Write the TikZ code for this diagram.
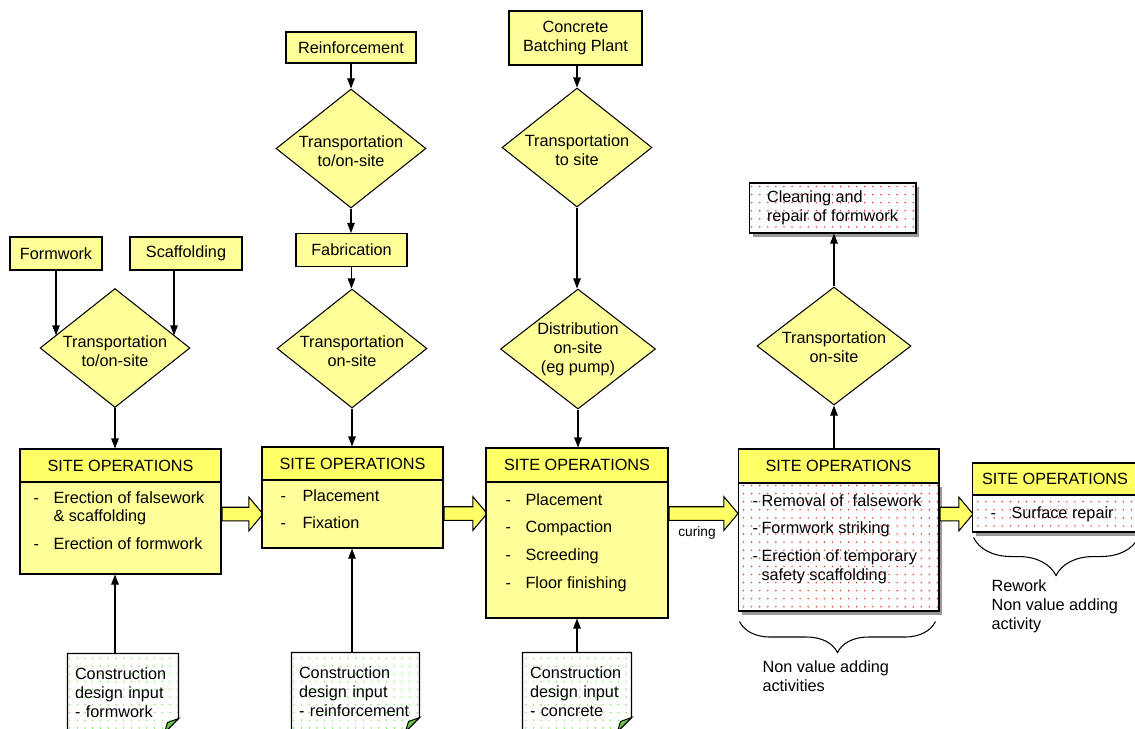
\documentclass[tikz,border=0pt]{standalone}
\usepackage{fontspec}
\setmainfont{Liberation Sans}
\usetikzlibrary{shapes.geometric,shapes.arrows,arrows.meta,patterns.meta,shadows,decorations.pathreplacing}

\definecolor{boxyellow}{RGB}{255,255,153}
\definecolor{headyellow}{RGB}{255,255,102}
\definecolor{dotred}{RGB}{255,30,30}
\definecolor{dotgreen}{RGB}{120,235,80}
\definecolor{foldgreen}{RGB}{110,205,70}

% list of operations: width of the dash column, then the rows
\newcommand{\oplist}[2]{\begin{tabular}[t]{@{}p{#1}@{}l@{}}#2\end{tabular}}
% outline of a design note with its folded corner
\newcommand{\docedge}[1]{%
  \fill[white] ([yshift=0.28cm]#1.south east) -- (#1.south east) -- ([xshift=-0.28cm]#1.south east) -- cycle;
  \draw (#1.south west) -- (#1.north west) -- (#1.north east) -- ([yshift=0.28cm]#1.south east) -- ([xshift=-0.28cm]#1.south east);
  \filldraw[fill=foldgreen] ([yshift=0.28cm]#1.south east) -- ([xshift=-0.28cm]#1.south east) -- ([xshift=-0.22cm,yshift=0.2cm]#1.south east) -- cycle;}

\tikzset{
  every node/.style={font=\fontsize{9.25}{10.8}\selectfont},
  srcbox/.style={draw, fill=boxyellow, inner sep=0pt, align=center},
  dia/.style={diamond, draw, fill=boxyellow, inner sep=0pt, minimum width=3cm, minimum height=2.38cm},
  ophead/.style={draw, fill=headyellow, inner sep=0pt, minimum height=0.66cm},
  opbody/.style={draw, fill=boxyellow, inner sep=0pt},
  waste/.style={draw, inner sep=0pt,
    drop shadow={shadow xshift=0.07cm, shadow yshift=-0.07cm, fill=black!40, opacity=1},
    preaction={fill=white}, pattern={Dots[distance=4.6pt, radius=0.45pt]}, pattern color=dotred},
  docnote/.style={preaction={fill=white}, pattern={Dots[distance=4.4pt, radius=0.45pt]}, pattern color=dotgreen,
    inner ysep=0pt, inner xsep=0.14cm, align=left, minimum height=1.56cm},
  blkarrow/.style={single arrow, draw, fill=headyellow, inner sep=0pt, text height=0.25cm, text depth=0pt,
    single arrow head extend=0.2cm, single arrow tip angle=100, anchor=tail},
  brc/.style={decorate, decoration={brace, mirror, amplitude=#1}},
}

\begin{document}
\begin{tikzpicture}[x=0.02cm,y=-0.02cm,line width=0.6pt,>={Triangle[length=0.2cm,width=0.15cm]}]
  \path[use as bounding box, clip] (0,0) rectangle (1135,728);

  % formwork and scaffolding
  \node[srcbox, minimum width=1.84cm, minimum height=0.66cm] (form) at (56,253.5) {Formwork};
  \node[srcbox, minimum width=2.24cm, minimum height=0.66cm] (scaf) at (186,253.5) {Scaffolding};
  \coordinate (scafout) at ([xshift=-0.24cm]scaf.south);
  \node[dia] (d1) at (115,348) {};
  \node[align=center] (d1txt) at (115,351) {Transportation\\to/on-site};
  \node[ophead, minimum width=4.02cm] (op1h) at (120.5,465.5) {SITE OPERATIONS};
  \node[opbody, minimum width=4.02cm, minimum height=1.84cm] (op1b) at (120.5,528) {};
  \node[anchor=base west, inner sep=0pt] (op1txt) at (33,503)
    {\oplist{0.4cm}{-&Erection of falsework\\&\& scaffolding\\[5.1pt]-&Erection of formwork}};
  \node[docnote, text width=1.92cm, minimum width=2.2cm] (doc1) at (123,693) {Construction\\design input\\- formwork};
  \docedge{doc1}
  \draw[->] (form.south) -- (form.south |- d1.168);
  \draw[->] (scafout) -- (scafout |- d1.12);
  \draw[->] (d1.south) -- (d1.south |- op1h.north);
  \draw[->] (doc1.north -| d1.south) -- (op1b.south -| d1.south);
  \node[blkarrow, minimum height=0.82cm] (b12) at (op1b.east |- 0,514) {};

  % reinforcement
  \node[srcbox, minimum width=2.6cm, minimum height=0.62cm] (reinf) at (351,47.5) {Reinforcement};
  \node[dia] (d2) at (351,148.5) {};
  \node[align=center] (d2txt) at (351,151) {Transportation\\to/on-site};
  \node[srcbox, minimum width=2.22cm, minimum height=0.66cm] (fabr) at (351.5,250) {Fabrication};
  \node[dia] (d3) at (352,348.5) {};
  \node[align=center] (d3txt) at (352,351) {Transportation\\on-site};
  \node[ophead, minimum width=3.62cm] (op2h) at (352.5,463.5) {SITE OPERATIONS};
  \node[opbody, minimum width=3.62cm, minimum height=1.36cm] (op2b) at (352.5,514) {};
  \node[anchor=base west, inner sep=0pt] (op2txt) at (280,501)
    {\oplist{0.44cm}{-&Placement\\[5.1pt]-&Fixation}};
  \node[docnote, text width=2.26cm, minimum width=2.54cm] (doc2) at (355.5,692) {Construction\\design input\\- reinforcement};
  \docedge{doc2}
  \draw[->] (reinf.south) -- (reinf.south |- d2.north);
  \draw[->] (d2.south) -- (d2.south |- fabr.north);
  \draw[->] (fabr.south) -- (fabr.south |- d3.north);
  \draw[->] (d3.south) -- (d3.south |- op2h.north);
  \draw[->] (doc2.north -| d3.south) -- (op2b.south -| d3.south);
  \node[blkarrow, minimum height=0.86cm] (b23) at (op2b.east |- 0,513.5) {};

  % concrete
  \node[srcbox, minimum width=2.66cm, minimum height=1.08cm] (plant) at (575.5,38) {Concrete\\Batching Plant};
  \node[dia] (d4) at (577,147.5) {};
  \node[align=center] (d4txt) at (577,150) {Transportation\\to site};
  \node[dia, minimum width=3.1cm, minimum height=2.4cm] (d5) at (578,349) {};
  \node[align=center] (d5txt) at (d5) {Distribution\\on-site\\(eg pump)};
  \node[ophead, minimum width=3.64cm, minimum height=0.68cm] (op3h) at (577,465) {SITE OPERATIONS};
  \node[opbody, minimum width=3.64cm, minimum height=2.72cm] (op3b) at (577,550) {};
  \node[anchor=base west, inner sep=0pt] (op3txt) at (505,505)
    {\oplist{0.4cm}{-&Placement\\[5.1pt]-&Compaction\\[5.1pt]-&Screeding\\[5.1pt]-&Floor finishing}};
  \node[docnote, text width=1.88cm, minimum width=2.16cm] (doc3) at (577,692) {Construction\\design input\\- concrete};
  \docedge{doc3}
  \draw[->] (plant.south -| d4.north) -- (d4.north);
  \draw[->] (d4.south) -- (d4.south |- d5.north);
  \draw[->] (d5.south) -- (d5.south |- op3h.north);
  \draw[->] (doc3.north) -- (op3b.south);
  \node[blkarrow, minimum height=1.38cm] (b34) at (op3b.east |- 0,513.5) {};
  \node[font=\fontsize{7.8}{9}\selectfont] (curing) at (697,533) {curing};

  % striking and cleaning
  \node[ophead, minimum width=4.02cm, minimum height=0.68cm] (op4h) at (838.5,466) {SITE OPERATIONS};
  \node[waste, minimum width=4.02cm, minimum height=2.56cm] (op4b) at (838.5,547) {};
  \node[anchor=base west, inner sep=0pt] (op4txt) at (752,506)
    {\oplist{0.18cm}{-&Removal of~ falsework\\[5.1pt]-&Formwork striking\\[5.1pt]-&Erection of temporary\\&safety scaffolding}};
  \node[dia, minimum width=3.08cm, minimum height=2.36cm] (d6) at (834,346) {};
  \node[align=center] (d6txt) at (834,347) {Transportation\\on-site};
  \node[waste, align=left, minimum width=3.34cm, minimum height=1cm] (clean) at (832.5,208) {Cleaning and\\repair of formwork};
  \draw[->] (op4h.north -| d6.south) -- (d6.south);
  \draw[->] (d6.north) -- (d6.north |- clean.south);
  \draw[brc=0.62cm] ([xshift=0.04cm,yshift=-0.2cm]op4b.south west) -- ([xshift=-0.08cm,yshift=-0.2cm]op4b.south east);
  \node[anchor=west, align=left, inner sep=0pt] (nva) at (762,676) {Non value adding\\activities};

  % rework
  \node[blkarrow, minimum height=0.66cm] (b45) at (op4b.east |- 0,514) {};
  \node[ophead, minimum width=3.32cm, minimum height=0.64cm] (op5h) at (1055,479) {SITE OPERATIONS};
  \node[waste, minimum width=3.32cm, minimum height=0.74cm] (op5b) at (1055,513.5) {};
  \node[anchor=base west, inner sep=0pt] (op5txt) at (990,518) {\oplist{0.42cm}{-&Surface repair}};
  \draw[brc=0.76cm] ([xshift=0.04cm,yshift=-0.1cm]op5b.south west) -- ([yshift=-0.1cm]op5b.south east);
  \node[anchor=west, align=left, inner sep=0pt] (rework) at (991,606) {Rework\\Non value adding\\activity};
\end{tikzpicture}
\end{document}
